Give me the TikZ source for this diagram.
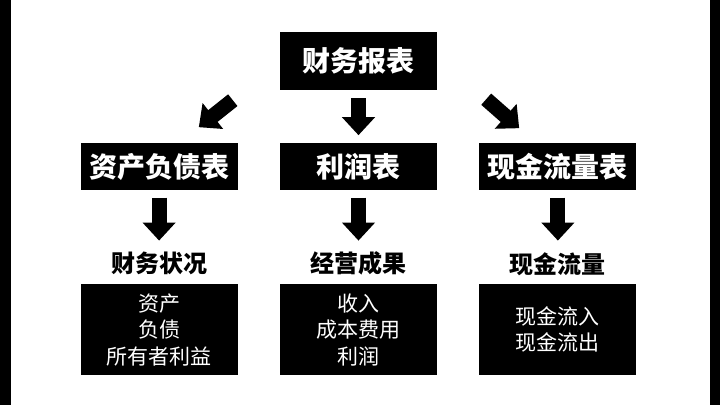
\documentclass[tikz,border=0pt]{standalone}
\usepackage{fontspec}
\newfontfamily\cjk{Noto Sans CJK SC}
\newfontfamily\cjkheavy{Noto Sans CJK SC Black}
\usetikzlibrary{positioning,arrows.meta,calc}

\begin{document}
\begin{tikzpicture}[x=1pt,y=1pt,node distance=42pt,
		head/.style={fill=black,text=white,minimum width=157pt,inner sep=0pt,
			font=\cjkheavy\fontsize{28}{32}\selectfont},
		sub/.style={inner sep=0pt,minimum height=30pt,font=\cjkheavy\fontsize{24}{28}\selectfont},
		items/.style={fill=black,text=white,minimum width=157pt,minimum height=91pt,
			inner sep=0pt,align=center,font=\cjk\fontsize{21}{26.5}\selectfont},
		blockarrow/.style={line width=15pt,-{Triangle[length=18pt,width=32pt]}}
		]
		\useasboundingbox (0,0) rectangle (720,405);
		\fill (0,0) rectangle (10.5,405);
		\fill (709.5,0) rectangle (720,405);
		
		\node[head, minimum height=58pt] (fs) at (358.5,344) {财务报表};
		\node[head, minimum height=47pt] (is) [below=53pt of fs] {利润表};
		\node[head, minimum height=47pt] (bs) [left=of is] {资产负债表};
		\node[head, minimum height=47pt] (cf) [right=of is] {现金流量表};
		
		\node[sub] (bsl) [below=58pt of bs] {财务状况};
		\node[sub] (isl) [below=58pt of is] {经营成果};
		\node[sub] (cfl) [below=58pt of cf] {现金流量};
		
		\node[items] (bsi) [below=5pt of bsl] {资产\\负债\\所有者利益};
		\node[items] (isi) [below=5pt of isl] {收入\\成本费用\\利润};
		\node[items] (cfi) [below=5pt of cfl] {现金流入\\现金流出};
		
		\coordinate (l1) at ($(fs.south west)+(-47,-10)$);
		\coordinate (l2) at ($(bs.north east)+(-39,16)$);
		\coordinate (r1) at ($(fs.south east)+(49,-9)$);
		\coordinate (r2) at ($(cf.north west)+(40,15)$);
		
		\draw[blockarrow] (l1) -- (l2);
		\draw[blockarrow, shorten <=8pt, shorten >=8pt] (fs) -- (is);
		\draw[blockarrow] (r1) -- (r2);
		
		\draw[blockarrow, shorten <=7pt, shorten >=8pt] (bs) -- (bsl);
		\draw[blockarrow, shorten <=7pt, shorten >=8pt] (is) -- (isl);
		\draw[blockarrow, shorten <=7pt, shorten >=8pt] (cf) -- (cfl);
	\end{tikzpicture}
\end{document}
